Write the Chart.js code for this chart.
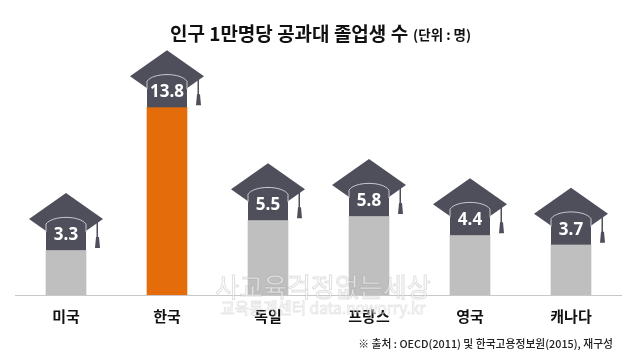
<!DOCTYPE html>
<html>
<head>
<meta charset="utf-8">
<style>
  html, body { margin: 0; padding: 0; background: #fff; }
  #chartBox { width: 634px; height: 359px; }
</style>
</head>
<body>
<div id="chartBox"><canvas id="gradChart"></canvas></div>
<script src="https://cdn.jsdelivr.net/npm/chart.js@4"></script>
<script>
// Chart data
const countries = ['미국', '한국', '독일', '프랑스', '영국', '캐나다'];
const graduates = [3.3, 13.8, 5.5, 5.8, 4.4, 3.7];
const barColors = ['#bfbfbf', '#e46c0a', '#bfbfbf', '#bfbfbf', '#bfbfbf', '#bfbfbf'];

const titleMain = '인구 1만명당 공과대 졸업생 수';
const titleUnit = '(단위 : 명)';
const sourceNote = '※ 출처 : OECD(2011) 및 한국고용정보원(2015), 재구성';
const watermarkMain = '사교육걱정없는세상';
const watermarkSub = '교육통계센터 data.noworry.kr';

const korean = '"Noto Sans CJK KR"';
const capColor = '#4f4f5c';

// Graduation cap sitting on top of each bar, offsets are relative to the bar top
function drawCap(ctx, x, top, value) {
    ctx.fillStyle = capColor;

    // board
    ctx.beginPath();
    ctx.moveTo(x, top - 57);
    ctx.lineTo(x + 37, top - 31);
    ctx.lineTo(x, top - 5);
    ctx.lineTo(x - 37, top - 31);
    ctx.closePath();
    ctx.fill();

    // crown under the board
    ctx.fillRect(x - 20, top - 26, 40, 26);

    // light arch on the crown
    ctx.beginPath();
    ctx.moveTo(x - 20, top - 18);
    ctx.lineTo(x - 20, top - 26);
    ctx.bezierCurveTo(x - 14, top - 35, x + 14, top - 35, x + 20, top - 26);
    ctx.lineTo(x + 20, top - 18);
    ctx.strokeStyle = '#c9c9d0';
    ctx.lineWidth = 1;
    ctx.stroke();

    // tassel
    ctx.fillStyle = capColor;
    ctx.fillRect(x + 30.5, top - 28, 1.5, 16);
    ctx.beginPath();
    ctx.moveTo(x + 30, top - 13);
    ctx.lineTo(x + 33, top - 13);
    ctx.lineTo(x + 34, top - 2);
    ctx.lineTo(x + 29, top - 2);
    ctx.closePath();
    ctx.fill();

    ctx.fillStyle = '#fff';
    ctx.font = 'bold 17px "Open Sans"';
    ctx.textAlign = 'center';
    ctx.textBaseline = 'middle';
    ctx.fillText(value.toFixed(1), x, top - 15);
}

const capsPlugin = {
    id: 'caps',
    afterDatasetsDraw(chart) {
        const ctx = chart.ctx;
        ctx.save();
        chart.getDatasetMeta(0).data.forEach((bar, i) => {
            drawCap(ctx, bar.x, bar.y, graduates[i]);
        });
        ctx.restore();
    }
};

// Title, source note and the watermark over the axis
const textPlugin = {
    id: 'texts',
    afterDraw(chart) {
        const ctx = chart.ctx;
        ctx.save();
        ctx.textBaseline = 'middle';

        // title is two sizes on one line
        ctx.fillStyle = '#111';
        ctx.textAlign = 'left';
        ctx.font = 'bold 19px ' + korean;
        const mainWidth = ctx.measureText(titleMain).width;
        ctx.font = 'bold 13.5px ' + korean;
        const unitWidth = ctx.measureText(titleUnit).width;
        const titleX = 320.5 - (mainWidth + 5 + unitWidth) / 2;
        ctx.font = 'bold 19px ' + korean;
        ctx.fillText(titleMain, titleX, 34);
        ctx.font = 'bold 13.5px ' + korean;
        ctx.fillText(titleUnit, titleX + mainWidth + 5, 35);

        ctx.font = '500 10.8px ' + korean;
        ctx.fillStyle = '#222';
        ctx.textAlign = 'right';
        ctx.fillText(sourceNote, 613, 344);

        // watermark
        ctx.textAlign = 'center';
        ctx.lineWidth = 1;
        ctx.strokeStyle = 'rgba(150,150,150,0.3)';
        ctx.fillStyle = 'rgba(255,255,255,0.55)';
        ctx.font = '26px ' + korean;
        ctx.fillText(watermarkMain, 323, 287);
        ctx.strokeText(watermarkMain, 323, 287);
        ctx.strokeStyle = 'rgba(150,150,150,0.22)';
        ctx.font = '15.5px ' + korean;
        ctx.fillText(watermarkSub, 323, 308);
        ctx.strokeText(watermarkSub, 323, 308);
        ctx.restore();
    }
};

new Chart(document.getElementById('gradChart').getContext('2d'), {
    type: 'bar',
    data: {
        labels: countries,
        datasets: [{
            data: graduates,
            backgroundColor: barColors,
            barThickness: 40
        }]
    },
    options: {
        responsive: true,
        maintainAspectRatio: false,
        animation: false,
        layout: { padding: { left: 15.5, right: 12.5, top: 23, bottom: 22 } },
        plugins: {
            legend: { display: false },
            title: { display: false },
            tooltip: { enabled: false }
        },
        scales: {
            x: {
                grid: { display: false, drawTicks: false },
                border: { color: '#c8c8c8', width: 1 },
                ticks: {
                    color: '#111',
                    padding: 12,
                    font: { family: 'Noto Sans CJK KR', size: 15, weight: 'bold' }
                }
            },
            y: {
                display: false,
                min: 0,
                max: 20
            }
        }
    },
    plugins: [capsPlugin, textPlugin]
});
</script>
</body>
</html>
